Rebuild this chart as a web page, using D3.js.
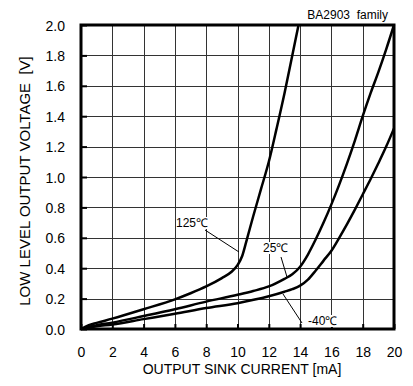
<!DOCTYPE html>
<html>
<head>
<meta charset="utf-8">
<script src="https://cdn.jsdelivr.net/npm/d3@7"></script>
<style>
  html, body { margin: 0; padding: 0; background: #fff; }
  svg { display: block; font-family: "Liberation Sans", Arial, sans-serif; }
  text { white-space: pre; }
</style>
</head>
<body>
<svg id="chart" width="413" height="386"></svg>
<script>
// Output sink current [mA] vs. low level output voltage [V]
const xTicks = [0, 2, 4, 6, 8, 10, 12, 14, 16, 18, 20];
const yTicks = [0.0, 0.2, 0.4, 0.6, 0.8, 1.0, 1.2, 1.4, 1.6, 1.8, 2.0];

const current125 = [0, 0.5, 1, 2, 4, 6, 7, 8, 9, 9.6, 10, 10.3, 10.6, 11, 11.5, 12, 12.5, 13, 13.5, 13.9];
const voltage125 = [0, 0.025, 0.04, 0.068, 0.13, 0.195, 0.235, 0.28, 0.335, 0.375, 0.42, 0.48, 0.59, 0.74, 0.92, 1.1, 1.32, 1.55, 1.8, 2.0];

const current25 = [0, 0.5, 1, 2, 4, 6, 8, 10, 11, 12, 13, 13.5, 14, 14.5, 15, 15.5, 16, 16.5, 17, 17.5, 18, 18.5, 19, 19.5, 20];
const voltage25 = [0, 0.015, 0.025, 0.042, 0.085, 0.13, 0.18, 0.225, 0.25, 0.28, 0.33, 0.36, 0.41, 0.49, 0.59, 0.70, 0.82, 0.95, 1.09, 1.24, 1.40, 1.55, 1.69, 1.84, 2.0];

const currentM40 = [0, 0.5, 1, 2, 4, 6, 8, 10, 12, 13, 13.5, 14, 14.5, 15, 15.5, 16, 16.5, 17, 17.5, 18, 18.5, 19, 19.5, 20];
const voltageM40 = [0, 0.01, 0.018, 0.03, 0.065, 0.10, 0.138, 0.17, 0.215, 0.245, 0.262, 0.285, 0.325, 0.385, 0.45, 0.515, 0.60, 0.69, 0.785, 0.885, 0.985, 1.09, 1.2, 1.32];

const seriesLabels = ["125℃", "25℃", "-40℃"];
const titleText = "BA2903  family";
const xTitle = "OUTPUT SINK CURRENT [mA]";
const yTitle = "LOW LEVEL OUTPUT VOLTAGE  [V]";

const svg = d3.select("#chart");
const plotL = 81, plotR = 394, plotT = 25, plotB = 329;

const x = d3.scaleLinear().domain([0, 20]).range([plotL, plotR]);
const y = d3.scaleLinear().domain([0, 2]).range([plotB, plotT]);

// grid
const grid = svg.append("g").attr("shape-rendering", "crispEdges");
grid.selectAll("line.vx").data(xTicks.slice(1, -1)).join("line")
  .attr("x1", d => Math.round(x(d)) + 0.5).attr("x2", d => Math.round(x(d)) + 0.5)
  .attr("y1", plotT).attr("y2", plotB)
  .attr("stroke", "#333").attr("stroke-width", 1);
grid.selectAll("line.hy").data(yTicks.slice(1, -1)).join("line")
  .attr("y1", d => Math.round(y(d)) + 0.5).attr("y2", d => Math.round(y(d)) + 0.5)
  .attr("x1", plotL).attr("x2", plotR)
  .attr("stroke", "#333").attr("stroke-width", 1);

// axes with inward ticks
const xAxis = svg.append("g").attr("transform", `translate(0,${plotB})`)
  .call(d3.axisBottom(x).tickValues(xTicks).tickSizeInner(-5).tickSizeOuter(0).tickFormat(d3.format("d")));
xAxis.select(".domain").remove();
xAxis.selectAll(".tick line").attr("stroke", "#000").attr("stroke-width", 2);
xAxis.selectAll(".tick text").attr("y", 0).attr("dy", 0)
  .attr("transform", "translate(0,28)")
  .attr("font-size", 14).attr("fill", "#000").attr("font-family", "Liberation Sans, Arial, sans-serif");

const yAxis = svg.append("g").attr("transform", `translate(${plotL},0)`)
  .call(d3.axisLeft(y).tickValues(yTicks).tickSizeInner(-6).tickSizeOuter(0).tickFormat(d3.format(".1f")));
yAxis.select(".domain").remove();
yAxis.selectAll(".tick line").attr("stroke", "#000").attr("stroke-width", 2);
yAxis.selectAll(".tick text").attr("x", -16).attr("dy", "0.36em")
  .attr("font-size", 14).attr("fill", "#000").attr("font-family", "Liberation Sans, Arial, sans-serif");

// frame
svg.append("rect").attr("x", plotL).attr("y", plotT)
  .attr("width", plotR - plotL).attr("height", plotB - plotT)
  .attr("fill", "none").attr("stroke", "#000").attr("stroke-width", 3);

// curves
const line = d3.line().x(d => x(d[0])).y(d => y(d[1])).curve(d3.curveMonotoneX);
const series = [
  d3.zip(current125, voltage125),
  d3.zip(current25, voltage25),
  d3.zip(currentM40, voltageM40)
];
svg.append("g").selectAll("path").data(series).join("path")
  .attr("d", line).attr("fill", "none").attr("stroke", "#000")
  .attr("stroke-width", 2.5).attr("stroke-linejoin", "round");

// leader lines and temperature labels
const leaders = [
  [[205, 230], [239, 252]],
  [[281, 257], [287, 277]],
  [[283, 294], [302, 323]]
];
svg.append("g").selectAll("line").data(leaders).join("line")
  .attr("x1", d => d[0][0]).attr("y1", d => d[0][1])
  .attr("x2", d => d[1][0]).attr("y2", d => d[1][1])
  .attr("stroke", "#000").attr("stroke-width", 1);

const labelPos = [[176, 227], [263, 252], [308, 325]];
const lab = svg.append("g").selectAll("g").data(seriesLabels).join("g")
  .attr("transform", (d, i) => `translate(${labelPos[i][0]},${labelPos[i][1]})`);
lab.append("text").text(d => d).attr("font-size", 12).attr("fill", "#000");
lab.each(function () {
  const t = d3.select(this).select("text");
  const b = t.node().getBBox();
  d3.select(this).insert("rect", "text")
    .attr("x", b.x).attr("y", b.y + 1).attr("width", b.width).attr("height", b.height - 2)
    .attr("fill", "#fff");
});

// titles
svg.append("text").attr("x", 388).attr("y", 19).attr("text-anchor", "end")
  .attr("font-size", 12).text(titleText);

svg.append("text").attr("x", 242).attr("y", 374).attr("text-anchor", "middle")
  .attr("font-size", 14).text(xTitle);

svg.append("text").attr("transform", "translate(30,181) rotate(-90)")
  .attr("text-anchor", "middle").attr("font-size", 15).text(yTitle);
</script>
</body>
</html>
